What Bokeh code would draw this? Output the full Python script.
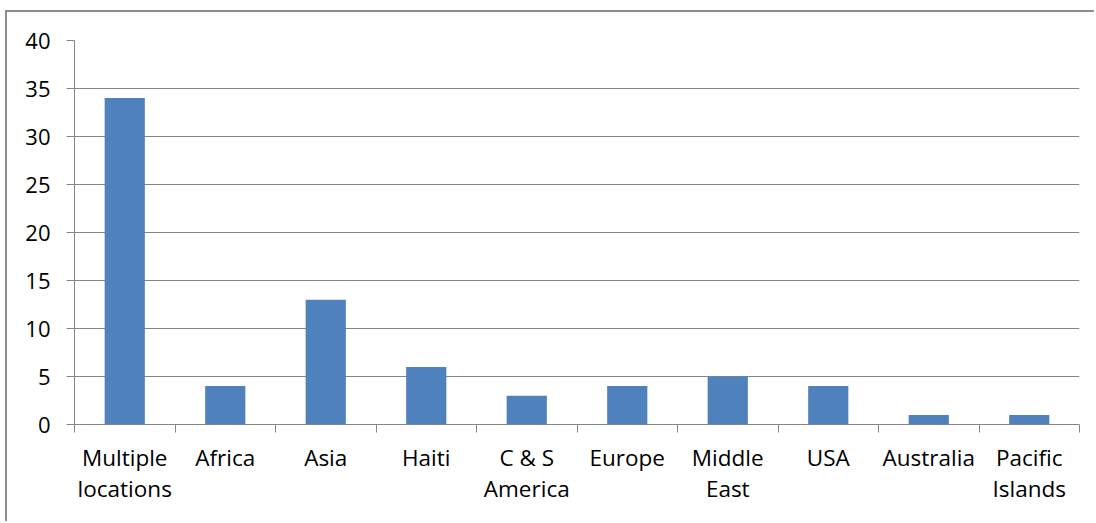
from bokeh.plotting import figure
from bokeh.models import ColumnDataSource, FixedTicker, LinearAxis, Range1d
from bokeh.embed import file_html
from bokeh.resources import INLINE

# Number of entries per location
regions = ["Multiple\nlocations", "Africa", "Asia", "Haiti", "C & S\nAmerica",
           "Europe", "Middle\nEast", "USA", "Australia", "Pacific\nIslands"]
counts = [34, 4, 13, 6, 3, 4, 5, 4, 1, 1]
y_ticks = [0, 5, 10, 15, 20, 25, 30, 35, 40]

GRID = "#868686"
BAR = "#4F81BD"
FONT = "Open Sans"

centers = [i + 0.5 for i in range(len(regions))]
source = ColumnDataSource(data=dict(x=centers, top=counts))

p = figure(width=1089, height=511, output_backend="svg", toolbar_location=None,
           x_range=Range1d(0, len(regions)), y_range=Range1d(0, 40),
           min_border_left=67, min_border_top=28, min_border_right=17,
           min_border_bottom=99, margin=(10, 0, 0, 5),
           styles={"border-left": "2px solid #8c8c8c", "border-top": "2px solid #8c8c8c"})
p.outline_line_color = None
p.background_fill_color = "white"
p.border_fill_color = "white"

p.vbar(x="x", top="top", width=0.4, bottom=0, source=source,
       fill_color=BAR, line_color=None)

# horizontal gridlines
p.xgrid.grid_line_color = None
p.ygrid.grid_line_color = GRID
p.ygrid.grid_line_width = 1
p.ygrid.ticker = FixedTicker(ticks=y_ticks)

# y axis
p.yaxis.ticker = FixedTicker(ticks=y_ticks)
p.yaxis.axis_line_color = GRID
p.yaxis.major_tick_line_color = GRID
p.yaxis.major_tick_out = 8
p.yaxis.major_tick_in = 0
p.yaxis.minor_tick_line_color = None
p.yaxis.major_label_text_font = FONT
p.yaxis.major_label_text_font_size = "22px"
p.yaxis.major_label_text_color = "black"
p.yaxis.major_label_standoff = 16

# x axis: tick marks at category boundaries, no labels
xa = p.xaxis[0]
xa.ticker = FixedTicker(ticks=list(range(len(regions) + 1)))
xa.major_label_overrides = {i: "" for i in range(len(regions) + 1)}
xa.major_label_text_font_size = "1px"
xa.major_label_standoff = 0
xa.axis_line_color = GRID
xa.major_tick_line_color = GRID
xa.major_tick_out = 8
xa.major_tick_in = 0
xa.minor_tick_line_color = None

# category labels at the bar centres
lab = LinearAxis(ticker=FixedTicker(ticks=centers))
lab.major_label_overrides = {c: r for c, r in zip(centers, regions)}
lab.axis_line_color = None
lab.major_tick_line_color = None
lab.minor_tick_line_color = None
lab.major_tick_out = 0
lab.major_tick_in = 0
lab.major_label_text_font = FONT
lab.major_label_text_font_size = "22.5px"
lab.major_label_text_color = "black"
lab.major_label_text_line_height = 1.03
lab.major_label_standoff = 9
p.add_layout(lab, "below")

open("out.html", "w").write(file_html(p, INLINE))
